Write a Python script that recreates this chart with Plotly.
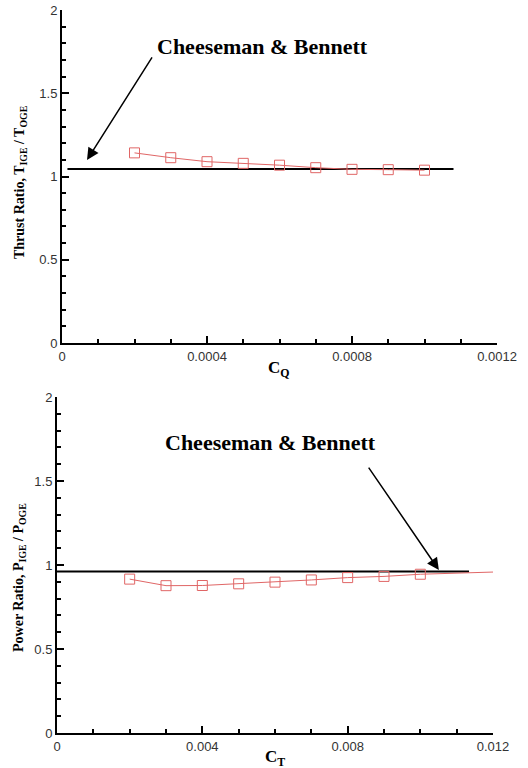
import plotly.graph_objects as go

# ---- data ----
cq = [0.0002, 0.0003, 0.0004, 0.0005, 0.0006, 0.0007, 0.0008, 0.0009, 0.0010]
thrust_ratio = [1.142, 1.113, 1.089, 1.079, 1.068, 1.053, 1.043, 1.041, 1.038]
cb_thrust_x = [0.000015, 0.00108]
cb_thrust_y = [1.045, 1.045]

ct = [0.002, 0.003, 0.004, 0.005, 0.006, 0.007, 0.008, 0.009, 0.010]
power_ratio = [0.916, 0.877, 0.878, 0.888, 0.898, 0.911, 0.925, 0.932, 0.945]
power_ext_x = [0.010, 0.012]
power_ext_y = [0.945, 0.958]
cb_power_x = [0.0, 0.01134]
cb_power_y = [0.962, 0.962]

top_xticks = [0, 0.0004, 0.0008, 0.0012]
top_xlabels = ["0", "0.0004", "0.0008", "0.0012"]
bot_xticks = [0, 0.004, 0.008, 0.012]
bot_xlabels = ["0", "0.004", "0.008", "0.012"]
yticks = [0, 0.5, 1, 1.5, 2]
ylabels = ["0", "0.5", "1", "1.5", "2"]

RED = "#e06666"
W, H = 528, 768


def px(p):
    return p / W


def py(p):
    return 1 - p / H


fig = go.Figure()

# top panel
fig.add_trace(go.Scatter(x=cb_thrust_x, y=cb_thrust_y, mode="lines",
                         line=dict(color="black", width=2), xaxis="x", yaxis="y"))
fig.add_trace(go.Scatter(x=cq, y=thrust_ratio, mode="lines+markers",
                         line=dict(color=RED, width=1),
                         marker=dict(symbol="square-open", size=10, color=RED, line=dict(width=1)),
                         xaxis="x", yaxis="y"))
# bottom panel
fig.add_trace(go.Scatter(x=cb_power_x, y=cb_power_y, mode="lines",
                         line=dict(color="black", width=2), xaxis="x2", yaxis="y2"))
fig.add_trace(go.Scatter(x=power_ext_x, y=power_ext_y, mode="lines",
                         line=dict(color=RED, width=1), xaxis="x2", yaxis="y2"))
fig.add_trace(go.Scatter(x=ct, y=power_ratio, mode="lines+markers",
                         line=dict(color=RED, width=1),
                         marker=dict(symbol="square-open", size=10, color=RED, line=dict(width=1)),
                         xaxis="x2", yaxis="y2"))

tickfont = dict(family="Liberation Sans", size=13, color="#333")
common = dict(showgrid=False, zeroline=False, showline=True, linecolor="black",
              linewidth=2, ticks="inside", ticklen=7, tickwidth=1.5, tickcolor="black",
              tickfont=tickfont, mirror=False, automargin=False)

fig.update_layout(
    template="none",
    width=W, height=H, margin=dict(l=0, r=0, t=0, b=0, pad=0), autosize=False,
    paper_bgcolor="white", plot_bgcolor="white", showlegend=False,
    xaxis=dict(domain=[px(62), px(497)], range=[0, 0.0012], anchor="y",
               tickvals=top_xticks, ticktext=top_xlabels,
               minor=dict(ticks="inside", ticklen=4, dtick=0.0001, tickcolor="black"),
               **common),
    yaxis=dict(domain=[py(343), py(10)], range=[0, 2], anchor="x",
               tickvals=yticks, ticktext=ylabels,
               minor=dict(ticks="inside", ticklen=4, dtick=0.1, tickcolor="black"),
               **common),
    xaxis2=dict(domain=[px(57), px(493)], range=[0, 0.012], anchor="y2",
                tickvals=bot_xticks, ticktext=bot_xlabels,
                minor=dict(ticks="inside", ticklen=4, dtick=0.001, tickcolor="black"),
                **common),
    yaxis2=dict(domain=[py(733), py(397)], range=[0, 2], anchor="x2",
                tickvals=yticks, ticktext=ylabels,
                minor=dict(ticks="inside", ticklen=4, dtick=0.1, tickcolor="black"),
                **common),
)

serif_b = dict(family="Liberation Serif", size=14, color="black")
serif_x = dict(family="Liberation Serif", size=17, color="black")
big_b = dict(family="Liberation Serif", size=22, color="black")

annotations = [
    dict(text="<b>Cheeseman &amp; Bennett</b>", x=0.000552, y=1.78, xref="x", yref="y",
         showarrow=False, font=big_b),
    dict(text="", x=0.000069, y=1.099, ax=0.000251, ay=1.724, xref="x", yref="y",
         axref="x", ayref="y", showarrow=True, arrowhead=2, arrowsize=1.6,
         arrowwidth=1.5, arrowcolor="black"),
    dict(text="<b>Cheeseman &amp; Bennett</b>", x=0.00587, y=1.73, xref="x2", yref="y2",
         showarrow=False, font=big_b),
    dict(text="", x=0.01051, y=0.970, ax=0.00855, ay=1.589, xref="x2", yref="y2",
         axref="x2", ayref="y2", showarrow=True, arrowhead=2, arrowsize=1.6,
         arrowwidth=1.5, arrowcolor="black"),
    dict(text="<b>Thrust Ratio, T<sub>IGE</sub> / T<sub>OGE</sub></b>", x=px(21), y=py(182),
         xref="paper", yref="paper", xanchor="center", yanchor="middle",
         textangle=-90, showarrow=False, font=serif_b),
    dict(text="<b>C<sub>Q</sub></b>", x=px(279), y=py(369),
         xref="paper", yref="paper", xanchor="center", yanchor="middle",
         showarrow=False, font=serif_x),
    dict(text="<b>Power Ratio, P<sub>IGE</sub> / P<sub>OGE</sub></b>", x=px(19), y=py(578),
         xref="paper", yref="paper", xanchor="center", yanchor="middle",
         textangle=-90, showarrow=False, font=serif_b),
    dict(text="<b>C<sub>T</sub></b>", x=px(275), y=py(758),
         xref="paper", yref="paper", xanchor="center", yanchor="middle",
         showarrow=False, font=serif_x),
]
fig.update_layout(annotations=annotations)

fig.write_html("out.html", config={"displayModeBar": False},
               post_script="document.body.style.margin='0';document.body.style.overflow='hidden';")
